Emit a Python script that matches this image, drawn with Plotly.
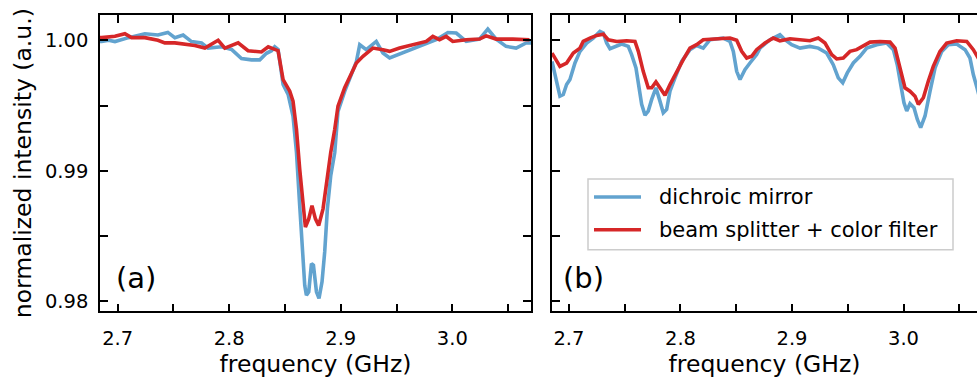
import plotly.graph_objects as go

# ---------------- data ----------------
# panel (a)
a_blue_f = [2.6842, 2.6857, 2.692, 2.6976, 2.7098, 2.7244, 2.7361, 2.745, 2.7513, 2.7587,
            2.7662, 2.7752, 2.7811, 2.7931, 2.8021, 2.8110, 2.8200, 2.8274, 2.8334, 2.8379,
            2.8408, 2.8438, 2.8483, 2.8528, 2.8572, 2.8603, 2.8632, 2.8656, 2.8677, 2.8692,
            2.8713, 2.8737, 2.8755, 2.8782, 2.8805, 2.8832, 2.8856, 2.8880, 2.8910, 2.8946,
            2.8975, 2.9035, 2.9080, 2.9140, 2.9170, 2.9229, 2.9318, 2.9378, 2.9438, 2.9557,
            2.9706, 2.9855, 2.9960, 3.0035, 3.0124, 3.0243, 3.0318, 3.0393, 3.0482, 3.0572,
            3.0661, 3.0705]
a_blue_v = [0.9999, 0.9999, 1.0000, 0.9999, 1.0002, 1.0005, 1.0004, 1.0006, 1.0002, 1.0004,
            0.9999, 0.9998, 0.9994, 0.9995, 0.9993, 0.9986, 0.9985, 0.9985, 0.9990, 0.9992,
            0.9995, 0.9993, 0.99661, 0.99585, 0.99419, 0.99141, 0.98734, 0.98379, 0.98124, 0.98048,
            0.98074, 0.98290, 0.98277, 0.98074, 0.98023, 0.98150, 0.98379, 0.98709, 0.98962, 0.99141,
            0.99455, 0.99608, 0.99699, 0.99836, 0.99966, 0.99928, 0.99991, 0.99902, 0.99864, 0.99902,
            0.99953, 1.00004, 1.00059, 1.00055, 0.99991, 1.00009, 1.00085, 1.00009, 0.99953, 0.99940,
            0.99979, 0.99980]

a_red_f = [2.6842, 2.6857, 2.6976, 2.7065, 2.7125, 2.7244, 2.7361, 2.7423, 2.7513, 2.7602,
           2.7692, 2.7782, 2.7901, 2.7961, 2.8080, 2.8169, 2.8289, 2.8350, 2.8379, 2.8438,
           2.8483, 2.8543, 2.8572, 2.8603, 2.8632, 2.8662, 2.8683, 2.8713, 2.8742, 2.8773,
           2.8802, 2.8841, 2.8871, 2.8910, 2.8946, 2.8975, 2.9035, 2.9080, 2.9140, 2.9199,
           2.9288, 2.9378, 2.9438, 2.9527, 2.9646, 2.9766, 2.9825, 2.9885, 2.9945, 3.0004,
           3.0124, 3.0243, 3.0303, 3.0393, 3.0542, 3.0691]
a_red_v = [1.0002, 1.0002, 1.0003, 1.0005, 1.0002, 1.0002, 1.0000, 0.9998, 0.9998, 0.9997,
           0.9996, 0.9994, 1.0000, 0.9994, 0.9998, 0.9992, 0.9991, 0.9995, 0.9994, 0.9992,
           0.99699, 0.99610, 0.99534, 0.99318, 0.99013, 0.98734, 0.98569, 0.98632, 0.98734, 0.98632,
           0.98581, 0.98709, 0.98912, 0.99141, 0.99318, 0.99496, 0.99636, 0.99712, 0.99826, 0.99877,
           0.99940, 0.99928, 0.99915, 0.99940, 0.99966, 0.99991, 1.00029, 1.00004, 1.00029, 0.99991,
           1.00004, 1.00009, 1.00034, 1.00009, 1.00009, 1.00004]

# panel (b)
b_blue_f = [2.6848, 2.6890, 2.6919, 2.6949, 2.6979, 2.7009, 2.7054, 2.7099, 2.7159, 2.7218,
            2.7278, 2.7308, 2.7338, 2.7368, 2.7413, 2.7473, 2.7532, 2.7562, 2.7601, 2.7622,
            2.7652, 2.7682, 2.7711, 2.7742, 2.7780, 2.7816, 2.7846, 2.7876, 2.7906, 2.7951,
            2.8011, 2.8085, 2.8145, 2.8204, 2.8265, 2.8384, 2.8444, 2.8474, 2.8504, 2.8534,
            2.8578, 2.8623, 2.8683, 2.8713, 2.8803, 2.8892, 2.8937, 2.8997, 2.9072, 2.9161,
            2.9236, 2.9311, 2.9370, 2.9415, 2.9455, 2.9496, 2.9550, 2.9610, 2.9670, 2.9760,
            2.9849, 2.9909, 2.9944, 2.9975, 3.0004, 3.0029, 3.0058, 3.0094, 3.0124, 3.0154,
            3.0193, 3.0238, 3.0283, 3.0343, 3.0402, 3.0477, 3.0552, 3.0596, 3.0626, 3.0659,
            3.0700]
b_blue_v = [0.99838, 0.99661, 0.99572, 0.99585, 0.99661, 0.99699, 0.99826, 0.99915, 0.99979, 1.00017,
            1.00067, 1.00055, 0.99979, 0.99935, 0.99953, 0.99971, 0.99953, 0.99890, 0.99788, 0.99674,
            0.99509, 0.99427, 0.99458, 0.99547, 0.99636, 0.99534, 0.99445, 0.99470, 0.99610, 0.99712,
            0.99838, 0.99928, 0.99960, 0.99940, 1.00004, 1.00017, 0.99991, 0.99915, 0.99762, 0.99699,
            0.99775, 0.99826, 0.99890, 0.99940, 1.00004, 1.00042, 1.00004, 0.99966, 0.99940, 0.99953,
            0.99940, 0.99902, 0.99813, 0.99712, 0.99674, 0.99750, 0.99826, 0.99877, 0.99940, 0.99966,
            0.99979, 0.99928, 0.99813, 0.99661, 0.99522, 0.99458, 0.99514, 0.99483, 0.99394, 0.99331,
            0.99420, 0.99610, 0.99788, 0.99915, 0.99966, 0.99971, 0.99928, 0.99864, 0.99737, 0.99636,
            0.99500]

b_red_f = [2.6848, 2.6919, 2.6979, 2.7039, 2.7099, 2.7128, 2.7188, 2.7248, 2.7308, 2.7352,
           2.7428, 2.7517, 2.7592, 2.7622, 2.7666, 2.7711, 2.7742, 2.7780, 2.7816, 2.7861,
           2.7906, 2.7966, 2.8025, 2.8085, 2.8145, 2.8204, 2.8325, 2.8444, 2.8504, 2.8549,
           2.8594, 2.8639, 2.8683, 2.8758, 2.8832, 2.8892, 2.8982, 2.9072, 2.9161, 2.9236,
           2.9296, 2.9356, 2.9401, 2.9460, 2.9520, 2.9580, 2.9639, 2.9700, 2.9789, 2.9879,
           2.9924, 2.9953, 2.9984, 3.0013, 3.0058, 3.0103, 3.0133, 3.0178, 3.0222, 3.0267,
           3.0327, 3.0387, 3.0477, 3.0567, 3.0626, 3.0659, 3.0700]
b_red_v = [0.99902, 0.99800, 0.99826, 0.99902, 0.99940, 0.99991, 1.00017, 1.00037, 1.00047, 1.00004,
           0.99991, 0.99996, 0.99991, 0.99915, 0.99762, 0.99636, 0.99636, 0.99681, 0.99636, 0.99579,
           0.99661, 0.99762, 0.99851, 0.99940, 0.99966, 1.00004, 1.00011, 1.00017, 1.00000, 0.99915,
           0.99864, 0.99877, 0.99928, 0.99979, 1.00017, 0.99996, 1.00011, 1.00004, 0.99996, 1.00017,
           0.99979, 0.99890, 0.99857, 0.99864, 0.99915, 0.99928, 0.99953, 0.99986, 0.99991, 0.99986,
           0.99940, 0.99838, 0.99712, 0.99636, 0.99610, 0.99572, 0.99509, 0.99560, 0.99686, 0.99800,
           0.99915, 0.99979, 0.99996, 0.99991, 0.99928, 0.99877, 0.99820]

series_names = ["dichroic mirror", "beam splitter + color filter"]
panel_labels = ["(a)", "(b)"]
x_tickvals = [2.70, 2.75, 2.80, 2.85, 2.90, 2.95, 3.00, 3.05]
x_ticktext = ["2.7", "", "2.8", "", "2.9", "", "3.0", ""]
y_tickvals = [0.980, 0.985, 0.990, 0.995, 1.000]
y_ticktext = ["0.98", "", "0.99", "", "1.00"]

# ---------------- style ----------------
BLUE = "#62a3cf"
RED = "#d62728"
LW = 3.6
FONT = "DejaVu Sans"
W, H = 977, 385

def px2x(px):
    return px / W

def px2y(py):
    return 1 - py / H

fig = go.Figure()

fig.add_trace(go.Scatter(x=a_blue_f, y=a_blue_v, mode="lines", name=series_names[0],
                         line=dict(color=BLUE, width=LW), xaxis="x", yaxis="y", showlegend=False))
fig.add_trace(go.Scatter(x=a_red_f, y=a_red_v, mode="lines", name=series_names[1],
                         line=dict(color=RED, width=LW), xaxis="x", yaxis="y", showlegend=False))
fig.add_trace(go.Scatter(x=b_blue_f, y=b_blue_v, mode="lines", name=series_names[0],
                         line=dict(color=BLUE, width=LW), xaxis="x2", yaxis="y2", showlegend=False))
fig.add_trace(go.Scatter(x=b_red_f, y=b_red_v, mode="lines", name=series_names[1],
                         line=dict(color=RED, width=LW), xaxis="x2", yaxis="y2", showlegend=False))

xrange_ = [2.6842, 3.0705]
yrange_ = [0.97924, 1.00194]

tick_style = dict(ticks="inside", ticklen=8, tickwidth=1.5, tickcolor="black",
                  tickfont=dict(family=FONT, size=19.5, color="black"))
common_axis = dict(showgrid=False, zeroline=False, showline=True, linecolor="black",
                   linewidth=1.6, mirror="ticks", **tick_style)
title_font = dict(family=FONT, size=23.5, color="black")

ydom = [px2y(313), px2y(15)]

fig.update_layout(
    width=W, height=H,
    margin=dict(l=0, r=0, t=0, b=0),
    paper_bgcolor="white", plot_bgcolor="white",
    font=dict(family=FONT, color="black"),
    xaxis=dict(domain=[px2x(100), px2x(531)], range=xrange_, tickvals=x_tickvals,
               ticktext=x_ticktext, anchor="y", ticklabelstandoff=8,
               title=dict(text="frequency (GHz)", font=title_font, standoff=6),
               **common_axis),
    yaxis=dict(domain=ydom, range=yrange_, tickvals=y_tickvals, ticktext=y_ticktext,
               anchor="x", ticklabelstandoff=6, **common_axis),
    xaxis2=dict(domain=[px2x(552), 1.0], range=[2.6848, 3.0659], tickvals=x_tickvals,
                ticktext=x_ticktext, anchor="y2", ticklabelstandoff=8,
                title=dict(text="frequency (GHz)", font=title_font, standoff=6),
                **common_axis),
    # left spine of panel (b); the right spine lies beyond the image edge
    yaxis2=dict(domain=ydom, range=yrange_, tickvals=y_tickvals, ticktext=y_ticktext,
                showticklabels=False, anchor="x2", showgrid=False, zeroline=False,
                showline=True, linecolor="black", linewidth=1.6, mirror=False, **tick_style),
    # right-hand ticks of panel (b) without a visible spine
    yaxis3=dict(domain=ydom, range=yrange_, tickvals=y_tickvals, overlaying="y2",
                side="right", anchor="x2", showticklabels=False, showgrid=False,
                zeroline=False, showline=False, **tick_style),
)

annotations = [
    dict(text="normalized intensity (a.u.)", textangle=-90, x=px2x(23), y=px2y(164),
         xref="paper", yref="paper", xanchor="center", yanchor="middle", showarrow=False,
         font=title_font),
    dict(text=panel_labels[0], x=px2x(136), y=px2y(279), xref="paper", yref="paper",
         xanchor="center", yanchor="middle", showarrow=False,
         font=dict(family=FONT, size=29, color="black")),
    dict(text=panel_labels[1], x=px2x(583), y=px2y(279), xref="paper", yref="paper",
         xanchor="center", yanchor="middle", showarrow=False,
         font=dict(family=FONT, size=29, color="black")),
]

# legend (drawn to match the reference box)
shapes = [
    dict(type="rect", xref="paper", yref="paper", x0=px2x(588), x1=px2x(953),
         y0=px2y(251), y1=px2y(180), line=dict(color="#cccccc", width=1.5),
         fillcolor="rgba(255,255,255,0.8)", layer="above"),
]
legend_rows = [198, 231]
legend_colors = [BLUE, RED]
for name, col, row in zip(series_names, legend_colors, legend_rows):
    shapes.append(dict(type="line", xref="paper", yref="paper", x0=px2x(594), x1=px2x(641),
                       y0=px2y(row), y1=px2y(row), line=dict(color=col, width=LW), layer="above"))
    annotations.append(dict(text=name, x=px2x(657), y=px2y(row), xref="paper", yref="paper",
                            xanchor="left", yanchor="middle", showarrow=False,
                            font=dict(family=FONT, size=21, color="black")))

fig.update_layout(annotations=annotations, shapes=shapes)

fig.write_html("out.html")
